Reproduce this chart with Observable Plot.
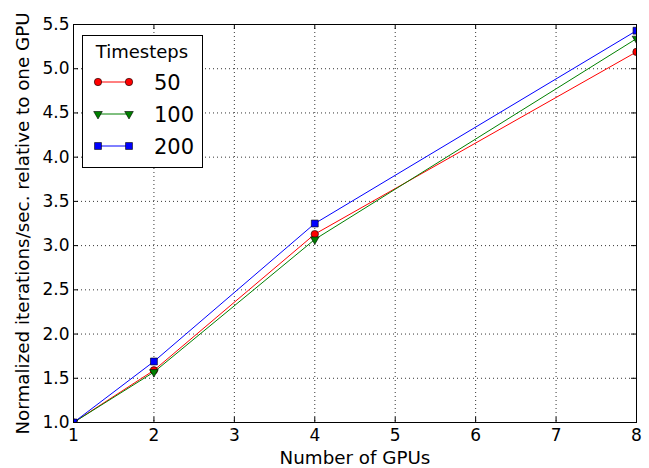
<!DOCTYPE html>
<html><head><meta charset="utf-8">
<script src="https://cdn.jsdelivr.net/npm/d3@7"></script>
<script src="https://cdn.jsdelivr.net/npm/@observablehq/plot@0.6"></script>
<style>
body{margin:0;background:#fff;font-family:"DejaVu Sans",sans-serif;}
#wrap{position:relative;width:649px;height:468px;}
#legend{position:absolute;left:82px;top:35px;}
</style></head><body><div id="wrap"></div>
<script>
const gpus = [1, 2, 4, 8];
const series = ["50", "100", "200"];
const ts50 = [1.0, 1.59, 3.13, 5.19];
const ts100 = [1.0, 1.57, 3.07, 5.34];
const ts200 = [1.0, 1.69, 3.25, 5.43];
const xTicks = [1, 2, 3, 4, 5, 6, 7, 8];
const yTicks = [1.0, 1.5, 2.0, 2.5, 3.0, 3.5, 4.0, 4.5, 5.0, 5.5];
const xLabel = "Number of GPUs";
const yLabel = "Normalized iterations/sec. relative to one GPU";
const legendTitle = "Timesteps";
const colors = ["#ff0000", "#008000", "#0000ff"];

const sqrt3 = Math.sqrt(3);
const triangleDown = {
  draw(context, size) {
    const y = -Math.sqrt(size / (sqrt3 * 3));
    context.moveTo(0, -y * 2);
    context.lineTo(-sqrt3 * y, y);
    context.lineTo(sqrt3 * y, y);
    context.closePath();
  }
};
const symbols = ["circle", triangleDown, "square"];
const sizes = [3.7, 3.2, 3.9];

const allSeries = [ts50, ts100, ts200];
const W = 649, H = 468, mL = 73, mR = 13, mT = 24, mB = 46;
const pw = W - mL - mR, ph = H - mT - mB;

const marks = [
  Plot.gridX(xTicks, {stroke: "#000", strokeOpacity: 1, strokeWidth: 0.8, strokeDasharray: "1,3"}),
  Plot.gridY(yTicks, {stroke: "#000", strokeOpacity: 1, strokeWidth: 0.8, strokeDasharray: "1,3"}),
];
allSeries.forEach((vals, s) => {
  const rows = gpus.map((g, i) => ({gpus: g, value: vals[i], series: series[s]}));
  marks.push(Plot.line(rows, {x: "gpus", y: "value", stroke: colors[s], strokeWidth: 1, clip: true}));
  marks.push(Plot.dot(rows, {x: "gpus", y: "value", symbol: symbols[s], r: sizes[s], fill: colors[s], stroke: "#000", strokeWidth: 0.6, clip: true}));
});
marks.push(
  Plot.tickX(xTicks, {x: d => d, stroke: "#000", insetTop: ph - 5}),
  Plot.tickX(xTicks, {x: d => d, stroke: "#000", insetBottom: ph - 5}),
  Plot.tickY(yTicks, {y: d => d, stroke: "#000", insetRight: pw - 5}),
  Plot.tickY(yTicks, {y: d => d, stroke: "#000", insetLeft: pw - 5}),
  Plot.axisX(xTicks, {tickSize: 0, tickPadding: 6, fontSize: 17, label: null}),
  Plot.axisY(yTicks, {tickSize: 0, tickPadding: 4, fontSize: 17, label: null, tickFormat: d3.format(".1f")}),
  Plot.text([xLabel], {text: d => d, frameAnchor: "bottom", lineAnchor: "middle", textAnchor: "middle", dy: 36, fontSize: 18.3, fill: "#000"}),
  Plot.text([yLabel], {text: d => d, frameAnchor: "left", lineAnchor: "middle", textAnchor: "middle", rotate: -90, dx: -50, fontSize: 18.3, fill: "#000"}),
  Plot.frame({stroke: "#000", strokeWidth: 1})
);

const chart = Plot.plot({
  width: W, height: H,
  marginLeft: mL, marginRight: mR, marginTop: mT, marginBottom: mB,
  style: {fontFamily: "DejaVu Sans", color: "#000", background: "#fff", overflow: "visible"},
  x: {type: "linear", domain: [1, 8]},
  y: {type: "linear", domain: [1, 5.5]},
  marks
});
const wrap = document.getElementById("wrap");
wrap.appendChild(chart);

// Legend
const lg = d3.select(wrap).append("svg").attr("id", "legend")
  .attr("width", 122).attr("height", 134)
  .style("font-family", "DejaVu Sans");
lg.append("rect").attr("x", 0.5).attr("y", 0.5).attr("width", 120).attr("height", 132)
  .attr("fill", "#fff").attr("stroke", "#000").attr("stroke-width", 1);
lg.append("text").attr("x", 60).attr("y", 22.5).attr("text-anchor", "middle")
  .attr("font-size", 18).text(legendTitle);
const rowY = [47, 79, 111];
series.forEach((name, s) => {
  const g = lg.append("g").attr("transform", `translate(0,${rowY[s]})`);
  g.append("line").attr("x1", 16).attr("x2", 47).attr("y1", 0).attr("y2", 0)
    .attr("stroke", colors[s]).attr("stroke-width", 1);
  const sym = d3.symbol(typeof symbols[s] === "string" ? (symbols[s] === "circle" ? d3.symbolCircle : d3.symbolSquare) : symbols[s], sizes[s] * sizes[s] * Math.PI);
  [16, 47].forEach(x => {
    g.append("path").attr("d", sym()).attr("transform", `translate(${x},0)`)
      .attr("fill", colors[s]).attr("stroke", "#000").attr("stroke-width", 0.6);
  });
  g.append("text").attr("x", 72).attr("y", 0).attr("dy", "0.36em")
    .attr("font-size", 21).text(name);
});
</script>
</body></html>
